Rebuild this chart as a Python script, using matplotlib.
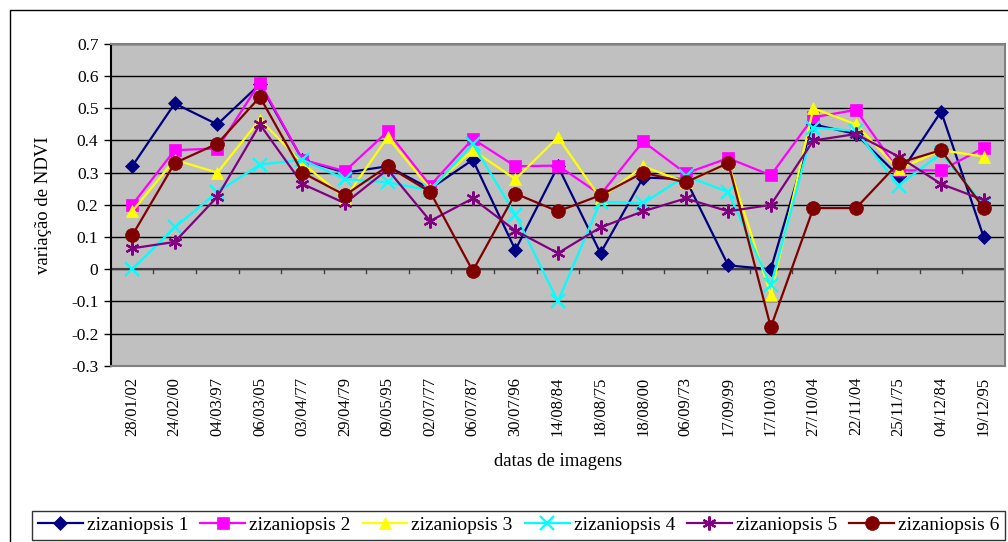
import matplotlib.pyplot as plt
import numpy as np
from matplotlib.patches import Rectangle

plt.rcParams['font.family'] = ['Liberation Serif', 'DejaVu Serif']

datas = ['28/01/02', '24/02/00', '04/03/97', '06/03/05', '03/04/77', '29/04/79',
         '09/05/95', '02/07/77', '06/07/87', '30/07/96', '14/08/84', '18/08/75',
         '18/08/00', '06/09/73', '17/09/99', '17/10/03', '27/10/04', '22/11/04',
         '25/11/75', '04/12/84', '19/12/95']

ziz1 = [0.32, 0.515, 0.45, 0.575, 0.34, 0.30, 0.32, 0.25, 0.34, 0.06, 0.32,
        0.05, 0.285, 0.28, 0.012, 0.0, 0.45, 0.42, 0.29, 0.49, 0.10]
ziz2 = [0.20, 0.37, 0.375, 0.58, 0.34, 0.305, 0.428, 0.26, 0.405, 0.32, 0.322,
        0.232, 0.397, 0.298, 0.345, 0.292, 0.472, 0.495, 0.307, 0.307, 0.377]
ziz3 = [0.18, 0.34, 0.30, 0.465, 0.33, 0.22, 0.41, 0.25, 0.37, 0.28, 0.41,
        0.22, 0.32, 0.27, 0.33, -0.08, 0.50, 0.45, 0.31, 0.37, 0.35]
ziz4 = [0.0, 0.13, 0.24, 0.325, 0.34, 0.28, 0.27, 0.245, 0.39, 0.17, -0.10,
        0.21, 0.205, 0.29, 0.24, -0.05, 0.44, 0.43, 0.26, 0.36, 0.20]
ziz5 = [0.065, 0.085, 0.225, 0.45, 0.265, 0.205, 0.31, 0.15, 0.22, 0.12, 0.05,
        0.13, 0.18, 0.22, 0.18, 0.20, 0.40, 0.42, 0.35, 0.265, 0.215]
ziz6 = [0.105, 0.33, 0.39, 0.535, 0.30, 0.23, 0.32, 0.24, -0.005, 0.235, 0.18,
        0.23, 0.30, 0.27, 0.33, -0.18, 0.19, 0.19, 0.33, 0.37, 0.19]

series = [ziz1, ziz2, ziz3, ziz4, ziz5, ziz6]
nomes = ['zizaniopsis 1', 'zizaniopsis 2', 'zizaniopsis 3',
         'zizaniopsis 4', 'zizaniopsis 5', 'zizaniopsis 6']
cores = ['#000080', '#FF00FF', '#FFFF00', '#00FFFF', '#800080', '#800000']
marcas = ['D', 's', '^', 'x', (6, 2, 0), 'o']
tamanhos = [7, 9, 9, 10, 10, 10]

fig = plt.figure(figsize=(10.08, 5.42), dpi=100)
ax = fig.add_axes([0.110, 0.325, 0.887, 0.594])
ax.set_facecolor('#C0C0C0')

x = np.arange(len(datas))
for s, nome, c, m, ms in zip(series, nomes, cores, marcas, tamanhos):
    ax.plot(x, s, color=c, marker=m, markersize=ms, linewidth=1.6,
            markeredgewidth=1.6 if m in ('x', (6, 2, 0)) else 0.5,
            markeredgecolor=c, label=nome, zorder=3)

ax.set_xlim(-0.5, len(datas) - 0.5)
ax.set_ylim(-0.3, 0.7)
ax.set_yticks(np.arange(-0.3, 0.71, 0.1))
ax.set_yticklabels(['-0.3', '-0.2', '-0.1', '0', '0.1', '0.2', '0.3',
                    '0.4', '0.5', '0.6', '0.7'], fontsize=12.5)
ax.yaxis.grid(True, color='black', linewidth=1)
ax.set_axisbelow(True)
ax.tick_params(axis='y', direction='out', length=5, width=1, pad=4)

# eixo x cruza em zero, com marcas entre categorias
ax.axhline(0, color='#404040', linewidth=1.5, zorder=2)
for b in np.arange(0.5, len(datas) - 0.5, 1):
    ax.plot([b, b], [0, -0.013], color='#404040', linewidth=1, zorder=2)

ax.set_xticks(x)
ax.set_xticklabels(datas, rotation=90, fontsize=12)
ax.tick_params(axis='x', length=0, pad=8)

for lado in ['top', 'right', 'bottom']:
    ax.spines[lado].set_color('#808080')
    ax.spines[lado].set_linewidth(1.5)
ax.spines['left'].set_color('black')
ax.spines['left'].set_linewidth(1.5)

ax.set_xlabel('datas de imagens', fontsize=13.5, labelpad=12)
ax.set_ylabel('variação de NDVI', fontsize=13.5, labelpad=14)

leg = fig.legend(loc='lower left', bbox_to_anchor=(0.032, 0.004, 0.965, 0.058),
                 mode='expand', ncol=6, fontsize=14, frameon=True,
                 fancybox=False, edgecolor='black', handlelength=2.3,
                 handletextpad=0.2, columnspacing=0.5, borderpad=0.3,
                 borderaxespad=0)
leg.get_frame().set_linewidth(1)

fig.patches.append(Rectangle((0.01, -0.1), 1.1, 1.1 - 10 / 542,
                             transform=fig.transFigure, fill=False,
                             edgecolor='black', linewidth=1))

plt.savefig('out.png', dpi=100)
